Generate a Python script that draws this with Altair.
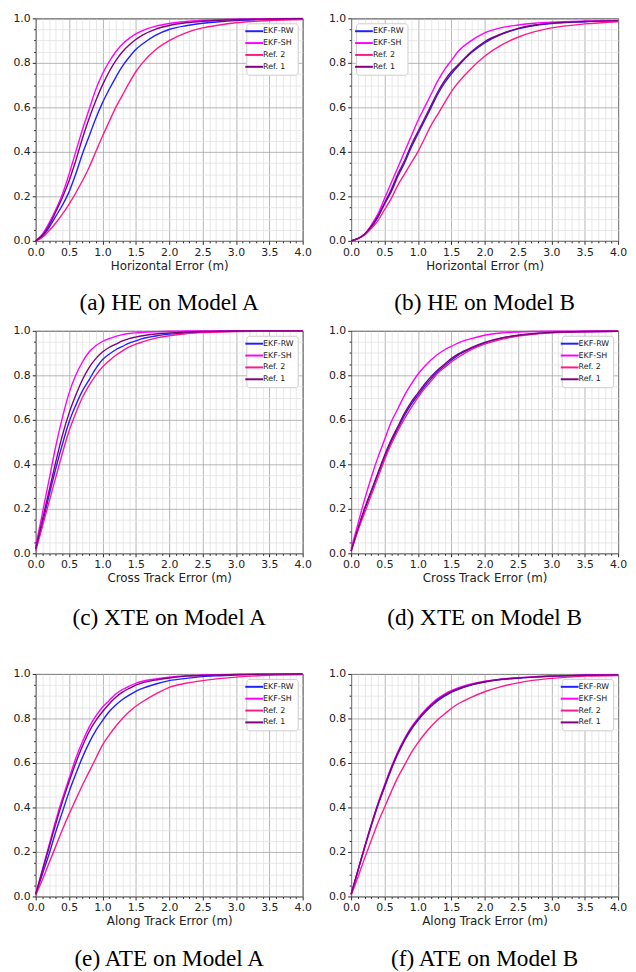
import altair as alt
import pandas as pd

# x positions (m) at which the CDF curves were read
X = [0, 0.1, 0.2, 0.3, 0.4, 0.5, 0.6, 0.7, 0.8, 0.9, 1.0, 1.1, 1.2, 1.3, 1.4,
     1.5, 1.6, 1.8, 2.0, 2.25, 2.5, 2.75, 3.0, 3.5, 4.0]

SERIES = ["EKF-RW", "EKF-SH", "Ref. 2", "Ref. 1"]
COLORS = ["#2020ff", "#ff00ff", "#ff1a8c", "#800080"]

# (a) HE on Model A
HE_A_RW = [0, 0.02, 0.06, 0.11, 0.16, 0.22, 0.30, 0.39, 0.47, 0.55, 0.62, 0.68, 0.735, 0.785, 0.825, 0.86, 0.885, 0.925, 0.95, 0.967, 0.978, 0.985, 0.99, 0.995, 0.998]
HE_A_SH = [0, 0.03, 0.08, 0.14, 0.21, 0.30, 0.40, 0.50, 0.59, 0.68, 0.75, 0.805, 0.85, 0.885, 0.91, 0.93, 0.945, 0.965, 0.977, 0.986, 0.991, 0.994, 0.996, 0.998, 1.0]
HE_A_R2 = [0, 0.015, 0.045, 0.08, 0.12, 0.165, 0.215, 0.27, 0.33, 0.40, 0.47, 0.535, 0.60, 0.655, 0.71, 0.76, 0.80, 0.86, 0.90, 0.935, 0.957, 0.97, 0.98, 0.99, 0.995]
HE_A_R1 = [0, 0.025, 0.07, 0.13, 0.195, 0.27, 0.36, 0.46, 0.55, 0.63, 0.70, 0.76, 0.81, 0.85, 0.88, 0.905, 0.925, 0.952, 0.968, 0.98, 0.987, 0.991, 0.994, 0.997, 0.999]

# (b) HE on Model B
HE_B_RW = [0, 0.01, 0.03, 0.06, 0.105, 0.165, 0.22, 0.29, 0.35, 0.42, 0.48, 0.54, 0.60, 0.66, 0.71, 0.75, 0.785, 0.845, 0.89, 0.928, 0.953, 0.968, 0.977, 0.985, 0.99]
HE_B_SH = [0, 0.01, 0.03, 0.07, 0.12, 0.19, 0.26, 0.33, 0.40, 0.47, 0.54, 0.60, 0.66, 0.72, 0.77, 0.81, 0.85, 0.90, 0.935, 0.958, 0.97, 0.978, 0.983, 0.988, 0.99]
HE_B_R2 = [0, 0.01, 0.025, 0.055, 0.09, 0.14, 0.19, 0.25, 0.30, 0.35, 0.40, 0.46, 0.52, 0.57, 0.62, 0.67, 0.71, 0.775, 0.83, 0.88, 0.915, 0.94, 0.957, 0.975, 0.985]
HE_B_R1 = [0, 0.01, 0.03, 0.065, 0.11, 0.17, 0.23, 0.30, 0.36, 0.43, 0.49, 0.55, 0.61, 0.67, 0.72, 0.76, 0.79, 0.85, 0.895, 0.93, 0.955, 0.97, 0.978, 0.986, 0.99]

# (c) XTE on Model A
XTE_A_RW = [0.02, 0.13, 0.26, 0.38, 0.49, 0.59, 0.665, 0.73, 0.78, 0.83, 0.87, 0.895, 0.915, 0.93, 0.945, 0.955, 0.965, 0.977, 0.985, 0.99, 0.995, 0.997, 0.998, 0.999, 1.0]
XTE_A_SH = [0.03, 0.18, 0.33, 0.48, 0.61, 0.72, 0.80, 0.86, 0.905, 0.933, 0.952, 0.965, 0.975, 0.983, 0.988, 0.991, 0.993, 0.996, 0.998, 0.999, 1.0, 1.0, 1.0, 1.0, 1.0]
XTE_A_R2 = [0.01, 0.12, 0.23, 0.34, 0.45, 0.55, 0.63, 0.70, 0.755, 0.80, 0.837, 0.865, 0.89, 0.91, 0.928, 0.94, 0.95, 0.967, 0.978, 0.987, 0.992, 0.995, 0.997, 0.999, 1.0]
XTE_A_R1 = [0.02, 0.15, 0.28, 0.41, 0.53, 0.63, 0.71, 0.78, 0.835, 0.875, 0.905, 0.925, 0.94, 0.955, 0.965, 0.972, 0.978, 0.986, 0.99, 0.994, 0.997, 0.998, 0.999, 1.0, 1.0]

# (d) XTE on Model B
XTE_B_RW = [0.01, 0.105, 0.195, 0.275, 0.355, 0.43, 0.50, 0.56, 0.62, 0.67, 0.71, 0.75, 0.785, 0.817, 0.843, 0.868, 0.89, 0.921, 0.945, 0.966, 0.979, 0.987, 0.992, 0.996, 0.998]
XTE_B_SH = [0.02, 0.13, 0.24, 0.34, 0.43, 0.51, 0.59, 0.65, 0.71, 0.76, 0.805, 0.84, 0.87, 0.895, 0.915, 0.93, 0.945, 0.965, 0.98, 0.99, 0.995, 0.997, 0.998, 0.999, 1.0]
XTE_B_R2 = [0.01, 0.10, 0.18, 0.26, 0.34, 0.42, 0.49, 0.55, 0.605, 0.655, 0.70, 0.74, 0.775, 0.81, 0.835, 0.86, 0.88, 0.915, 0.94, 0.962, 0.976, 0.986, 0.991, 0.996, 0.998]
XTE_B_R1 = [0.01, 0.11, 0.20, 0.28, 0.36, 0.44, 0.51, 0.57, 0.63, 0.68, 0.72, 0.76, 0.795, 0.825, 0.85, 0.875, 0.895, 0.925, 0.948, 0.968, 0.98, 0.988, 0.993, 0.997, 0.998]

# (e) ATE on Model A
ATE_A_RW = [0.01, 0.10, 0.19, 0.29, 0.38, 0.47, 0.55, 0.625, 0.69, 0.745, 0.79, 0.83, 0.86, 0.885, 0.905, 0.922, 0.935, 0.955, 0.97, 0.98, 0.988, 0.992, 0.995, 0.998, 0.999]
ATE_A_SH = [0.01, 0.12, 0.23, 0.34, 0.44, 0.53, 0.62, 0.695, 0.76, 0.81, 0.85, 0.88, 0.91, 0.93, 0.945, 0.958, 0.967, 0.978, 0.986, 0.992, 0.995, 0.997, 0.998, 0.999, 1.0]
ATE_A_R2 = [0.005, 0.075, 0.15, 0.225, 0.30, 0.37, 0.435, 0.50, 0.56, 0.62, 0.68, 0.725, 0.765, 0.80, 0.83, 0.855, 0.875, 0.91, 0.94, 0.958, 0.97, 0.979, 0.986, 0.994, 0.997]
ATE_A_R1 = [0.01, 0.115, 0.22, 0.325, 0.425, 0.515, 0.60, 0.675, 0.74, 0.79, 0.83, 0.865, 0.895, 0.918, 0.935, 0.95, 0.96, 0.973, 0.982, 0.99, 0.993, 0.996, 0.998, 0.999, 1.0]

# (f) ATE on Model B
ATE_B_RW = [0.01, 0.113, 0.217, 0.315, 0.408, 0.49, 0.57, 0.64, 0.70, 0.75, 0.79, 0.825, 0.855, 0.88, 0.90, 0.917, 0.93, 0.95, 0.963, 0.975, 0.981, 0.986, 0.99, 0.994, 0.996]
ATE_B_SH = [0.01, 0.115, 0.22, 0.32, 0.415, 0.50, 0.58, 0.65, 0.71, 0.76, 0.80, 0.835, 0.865, 0.89, 0.91, 0.925, 0.937, 0.955, 0.967, 0.977, 0.983, 0.988, 0.991, 0.994, 0.996]
ATE_B_R2 = [0.005, 0.085, 0.17, 0.25, 0.33, 0.40, 0.47, 0.535, 0.59, 0.645, 0.69, 0.73, 0.765, 0.795, 0.82, 0.845, 0.865, 0.895, 0.92, 0.943, 0.96, 0.972, 0.98, 0.99, 0.993]
ATE_B_R1 = [0.01, 0.115, 0.22, 0.32, 0.413, 0.495, 0.575, 0.645, 0.705, 0.755, 0.795, 0.83, 0.86, 0.885, 0.905, 0.92, 0.933, 0.952, 0.965, 0.976, 0.982, 0.987, 0.99, 0.994, 0.996]

X_TICKS = [round(i * 0.1, 1) for i in range(41)]
Y_TICKS = [round(i * 0.05, 2) for i in range(21)]

MAJOR_X = "abs(datum.value*2 - round(datum.value*2)) < 0.001"
MAJOR_Y = "abs(datum.value*5 - round(datum.value*5)) < 0.001"
GRID_MAJOR = "#a4a4a4"
GRID_MINOR = "#e2e2e2"

W, H = 270, 225


def panel(lists, xtitle, caption, legend_orient, cap_offset):
    rows = []
    for name, ys in zip(SERIES, lists):
        for x, y in zip(X, ys):
            rows.append({"x": x, "y": y, "s": name})
    df = pd.DataFrame(rows)
    x_axis = alt.Axis(
        values=X_TICKS,
        labelExpr=f"{MAJOR_X} ? format(datum.value, '.1f') : ''",
        gridColor={"condition": {"test": MAJOR_X, "value": GRID_MAJOR}, "value": GRID_MINOR},
        tickSize={"condition": {"test": MAJOR_X, "value": 3.5}, "value": 2},
        labelPadding=2,
        titlePadding=3,
        title=xtitle,
    )
    y_axis = alt.Axis(
        values=Y_TICKS,
        labelExpr=f"{MAJOR_Y} ? format(datum.value, '.1f') : ''",
        gridColor={"condition": {"test": MAJOR_Y, "value": GRID_MAJOR}, "value": GRID_MINOR},
        tickSize={"condition": {"test": MAJOR_Y, "value": 3.5}, "value": 2},
        labelPadding=2,
        title=None,
    )
    return (
        alt.Chart(df)
        .mark_line(strokeWidth=1.4, interpolate="monotone")
        .encode(
            x=alt.X("x:Q", scale=alt.Scale(domain=[0, 4], nice=False, zero=False), axis=x_axis),
            y=alt.Y("y:Q", scale=alt.Scale(domain=[0, 1], nice=False), axis=y_axis),
            color=alt.Color(
                "s:N",
                scale=alt.Scale(domain=SERIES, range=COLORS),
                legend=alt.Legend(orient=legend_orient, title=None),
            ),
        )
        .properties(
            width=W,
            height=H,
            title=alt.TitleParams(
                caption, orient="bottom", font="Liberation Serif", fontSize=23.5,
                fontWeight="normal", color="black", offset=cap_offset,
            ),
        )
    )


pa = panel([HE_A_RW, HE_A_SH, HE_A_R2, HE_A_R1], "Horizontal Error (m)", "(a) HE on Model A", "top-right", 20)
pb = panel([HE_B_RW, HE_B_SH, HE_B_R2, HE_B_R1], "Horizontal Error (m)", "(b) HE on Model B", "top-left", 20)
pc = panel([XTE_A_RW, XTE_A_SH, XTE_A_R2, XTE_A_R1], "Cross Track Error (m)", "(c) XTE on Model A", "top-right", 23)
pd_ = panel([XTE_B_RW, XTE_B_SH, XTE_B_R2, XTE_B_R1], "Cross Track Error (m)", "(d) XTE on Model B", "top-right", 23)
pe = panel([ATE_A_RW, ATE_A_SH, ATE_A_R2, ATE_A_R1], "Along Track Error (m)", "(e) ATE on Model A", "top-right", 21)
pf = panel([ATE_B_RW, ATE_B_SH, ATE_B_R2, ATE_B_R1], "Along Track Error (m)", "(f) ATE on Model B", "top-right", 21)

row1 = alt.hconcat(pa, pb, spacing=49, bounds="flush").resolve_scale(color="independent")
row2 = alt.hconcat(pc, pd_, spacing=49, bounds="flush").resolve_scale(color="independent")
row3 = alt.hconcat(pe, pf, spacing=49, bounds="flush").resolve_scale(color="independent")
top = alt.vconcat(row1, row2, spacing=9).resolve_scale(color="independent")

chart = (
    alt.vconcat(top, row3, spacing=37)
    .resolve_scale(color="independent")
    .properties(padding={"left": 4, "top": -2, "right": 0, "bottom": 0})
    .configure_view(stroke="#262626", strokeWidth=1)
    .configure_axis(
        labelFont="DejaVu Sans", labelFontSize=11, labelColor="#222222",
        titleFont="DejaVu Sans", titleFontSize=12, titleFontWeight="normal", titleColor="#222222",
        domain=False, tickColor="#262626", tickWidth=1, gridWidth=0.8,
        labelFlush=False, labelOverlap=False,
    )
    .configure_legend(
        fillColor="white", strokeColor="#cccccc", cornerRadius=3, padding=4, offset=5,
        labelFont="DejaVu Sans", labelFontSize=8, labelColor="#222222",
        symbolType="M-3,0H3", symbolSize=36, symbolStrokeWidth=2,
        rowPadding=4, labelOffset=5,
    )
)

chart.save("out.html", embed_options={"renderer": "svg", "actions": False})
